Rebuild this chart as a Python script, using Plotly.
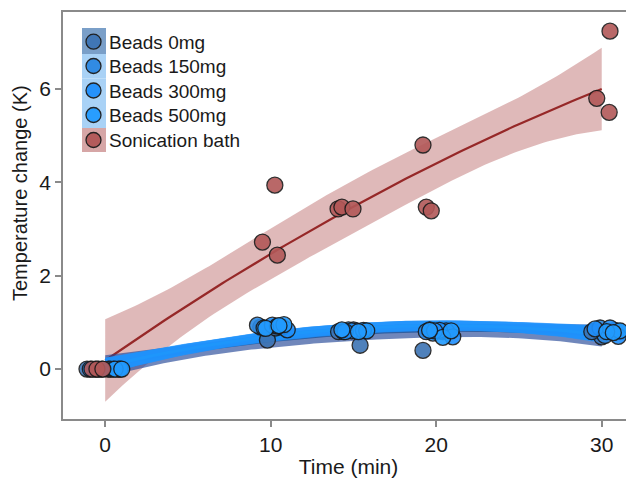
import numpy as np
import plotly.graph_objects as go

# ---------------- data ----------------
nominal_time = [0, 0, 0, 10, 10, 10, 15, 15, 15, 20, 20, 20, 30, 30, 30]

beads0_x = [-1.1, -0.4, 0.2, 9.8, 10.3, 9.4, 15.4, 14.1, 15.0, 19.2, 20.4, 19.6, 30.0, 29.4, 30.8]
beads0_y = [0, 0, 0, 0.62, 0.88, 0.90, 0.51, 0.80, 0.84, 0.40, 0.80, 0.84, 0.69, 0.80, 0.83]

beads150_x = [0.3, -0.6, 0.8, 9.2, 10.7, 9.6, 14.4, 15.2, 14.7, 19.8, 20.6, 19.4, 29.9, 30.2, 31.1]
beads150_y = [0, 0, 0, 0.94, 0.90, 0.88, 0.80, 0.82, 0.84, 0.77, 0.82, 0.80, 0.88, 0.72, 0.80]

beads300_x = [0.9, -0.9, 0.5, 10.1, 11.0, 10.4, 14.9, 14.5, 15.6, 21.0, 20.2, 19.9, 30.5, 31.0, 29.6]
beads300_y = [0, 0, 0, 0.94, 0.84, 0.92, 0.82, 0.80, 0.83, 0.69, 0.83, 0.82, 0.88, 0.70, 0.86]

beads500_x = [0.6, -0.2, 1.0, 10.8, 9.7, 10.5, 15.8, 14.3, 15.3, 20.4, 20.9, 19.6, 31.1, 30.3, 30.7]
beads500_y = [0, 0, 0, 0.95, 0.87, 0.93, 0.82, 0.84, 0.80, 0.68, 0.82, 0.83, 0.82, 0.80, 0.78]

sonic_x = [-0.8, -0.5, -0.14, 9.5, 10.25, 10.4, 14.07, 14.3, 14.97, 19.2, 19.4, 19.7, 29.7, 30.45, 30.5]
sonic_y = [0, 0, 0, 2.72, 3.94, 2.44, 3.43, 3.47, 3.43, 4.80, 3.47, 3.39, 5.80, 5.50, 7.24]

series_names = ["Beads 0mg", "Beads 150mg", "Beads 300mg", "Beads 500mg", "Sonication bath"]
x_ticks = [0, 10, 20, 30]
y_ticks = [0, 2, 4, 6]

# ---------------- styles ----------------
FONT = "Liberation Sans, Arial, sans-serif"
marker_colors = ["#3d74b4", "#2b88e2", "#1f8ffc", "#229bff", "#b25858"]
line_colors = ["#2f5fa0", "#1f82e0", "#1c8cf6", "#1e96fb", "#962828"]
ribbon_colors = ["rgba(35,70,150,0.65)", "rgba(28,125,230,0.7)", "rgba(30,140,250,0.7)",
                 "rgba(32,150,255,0.7)", "rgba(170,70,70,0.38)"]
key_bg = ["#7a9fc8", "#a9d2f6", "#a9d2f6", "#a9d2f6", "#d6a6a6"]

T_Q = 2.179  # t quantile (df = 12) for the 95% band


def quad_fit(t, y, grid):
    t = np.asarray(t, float)
    y = np.asarray(y, float)
    X = np.vstack([np.ones_like(t), t, t ** 2]).T
    beta, *_ = np.linalg.lstsq(X, y, rcond=None)
    resid = y - X @ beta
    sigma2 = resid @ resid / (len(y) - 3)
    cov = np.linalg.inv(X.T @ X) * sigma2
    G = np.vstack([np.ones_like(grid), grid, grid ** 2]).T
    fit = G @ beta
    se = np.sqrt(np.einsum("ij,jk,ik->i", G, cov, G))
    return fit, fit - T_Q * se, fit + T_Q * se


grid = np.linspace(min(nominal_time), max(nominal_time), 120)

xs = [beads0_x, beads150_x, beads300_x, beads500_x, sonic_x]
ys = [beads0_y, beads150_y, beads300_y, beads500_y, sonic_y]

fig = go.Figure()

# ribbons + fitted lines (sonication first so the blue band lies over it)
for i in [4, 0, 1, 2, 3]:
    fit, lo, hi = quad_fit(nominal_time, ys[i], grid)
    fig.add_trace(go.Scatter(x=np.concatenate([grid, grid[::-1]]),
                             y=np.concatenate([hi, lo[::-1]]),
                             fill="toself", fillcolor=ribbon_colors[i],
                             line=dict(width=0), hoverinfo="skip", showlegend=False))
    fig.add_trace(go.Scatter(x=grid, y=fit, mode="lines",
                             line=dict(color=line_colors[i], width=2.2 if i == 4 else 3),
                             hoverinfo="skip", showlegend=False))

# points
for i in range(5):
    fig.add_trace(go.Scatter(x=xs[i], y=ys[i], mode="markers", name=series_names[i],
                             showlegend=False,
                             marker=dict(size=16, color=marker_colors[i], opacity=0.9,
                                         line=dict(color="#1a1a1a", width=1.3))))

# The page has an 8px body margin; the figure is sized to end at the window edge.
OFF = 8
W, H = 634 - OFF, 481 - OFF
# plot area in window pixels: x 63..634, y 12..419
L, R, T, B = 63 - OFF, 0, 12 - OFF, 481 - 419
pw, ph = W - L - R, H - T - B


def px_x(p):  # window pixel -> paper
    return (p - OFF - L) / pw


def px_y(p):
    return (H - B - (p - OFF)) / ph


# legend (drawn as keys + real text)
row_edges = [28, 54, 78.5, 103, 128, 152]
row_centers = [41.7, 66, 90.5, 115, 140]
for k in range(5):
    fig.add_shape(type="rect", xref="paper", yref="paper", layer="above",
                  x0=px_x(82), x1=px_x(106), y0=px_y(row_edges[k + 1]), y1=px_y(row_edges[k]),
                  fillcolor=key_bg[k], line=dict(width=0))
    c = row_centers[k]
    fig.add_shape(type="circle", xref="paper", yref="paper", layer="above",
                  x0=px_x(86), x1=px_x(101), y0=px_y(c + 7.5), y1=px_y(c - 7.5),
                  fillcolor=marker_colors[k], opacity=0.95,
                  line=dict(color="#1a1a1a", width=1.3))
    fig.add_annotation(xref="paper", yref="paper", x=px_x(107), y=px_y(c + 0.5),
                       xanchor="left", yanchor="middle", showarrow=False,
                       text=series_names[k],
                       font=dict(family=FONT, size=19, color="#1a1a1a"))

# y-axis title (placed as in the reference, slightly above the panel centre)
fig.add_annotation(xref="paper", yref="paper", x=px_x(20), y=px_y(193),
                   xanchor="center", yanchor="middle", showarrow=False, textangle=-90,
                   text="Temperature change (K)",
                   font=dict(family=FONT, size=20, color="#1a1a1a"))

axis_common = dict(showgrid=False, zeroline=False, showline=True, linecolor="#8a8a8a",
                   linewidth=1.5, ticks="outside", ticklen=6, tickwidth=1.5, tickcolor="#8a8a8a",
                   automargin=False,
                   tickfont=dict(family=FONT, size=21, color="#1a1a1a"))

fig.update_layout(
    width=W, height=H,
    margin=dict(l=L, r=R, t=T, b=B),
    paper_bgcolor="white", plot_bgcolor="white",
    font=dict(family=FONT, color="#1a1a1a"),
    showlegend=False,
    xaxis=dict(range=[-2.55, 31.95], tickvals=x_ticks, mirror=True,
               title=dict(text="Time (min)", font=dict(size=21, family=FONT), standoff=4),
               **axis_common),
    yaxis=dict(range=[-1.07, 7.65], tickvals=y_ticks, **axis_common),
)

fig.write_html("out.html")
